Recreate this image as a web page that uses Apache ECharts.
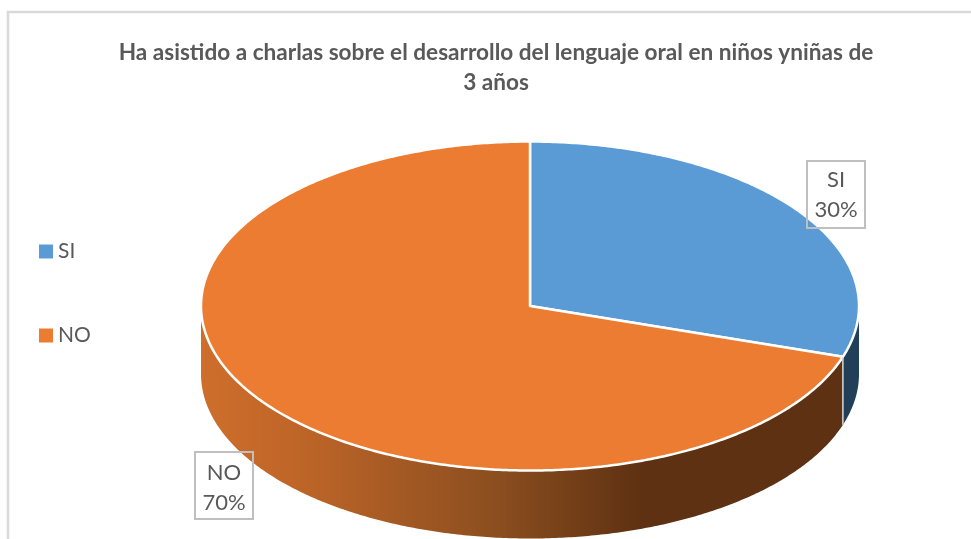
<!DOCTYPE html>
<html><head><meta charset="utf-8">
<style>html,body{margin:0;padding:0;background:#fff}#c{width:971px;height:539px}</style>
<script src="https://cdn.jsdelivr.net/npm/echarts@6/dist/echarts.min.js"></script>
</head><body><div id="c"></div>
<script>
const categories = ['SI', 'NO'];
const values = [30, 70];
const topColors = ['#5B9BD5', '#EB7C31'];
const titleText = 'Ha asistido a charlas sobre el desarrollo del lenguaje oral en niños yniñas de\n3 años';

const total = values.reduce((a, b) => a + b, 0);
const CX = 530, CY = 306, RX = 329, RY = 164.5, DEPTH = 68;
const wallFills = [
  '#223F59',
  new echarts.graphic.LinearGradient(201, 0, 859, 0, [
    {offset: 0, color: '#CE6E2B'},
    {offset: 0.15, color: '#BE6528'},
    {offset: 0.45, color: '#8B4E1F'},
    {offset: 0.67, color: '#5E3112'},
    {offset: 1, color: '#5E3112'}
  ], true)
];
const labelBoxes = [[836, 195], [224, 486]];
const labelTextDy = [0, 2];

function pt(a, dy) {
  return [CX + RX * Math.sin(a), CY - RY * Math.cos(a) + (dy || 0)];
}
function arc(a0, a1, dy) {
  const n = Math.max(2, Math.ceil(Math.abs(a1 - a0) / 0.01));
  const out = [];
  for (let i = 0; i <= n; i++) out.push(pt(a0 + (a1 - a0) * i / n, dy));
  return out;
}
function render(idx) {
  return function () {
    const before = values.slice(0, idx).reduce((a, b) => a + b, 0);
    const a0 = before / total * 2 * Math.PI;
    const a1 = (before + values[idx]) / total * 2 * Math.PI;
    const children = [];
    const w0 = Math.max(a0, Math.PI / 2), w1 = Math.min(a1, Math.PI * 1.5);
    if (w1 > w0) {
      children.push({
        type: 'polygon',
        shape: {points: arc(w0, w1, 0).concat(arc(w1, w0, DEPTH))},
        style: {fill: wallFills[idx], stroke: null},
        z2: 1
      });
    }
    children.push({
      type: 'polygon',
      shape: {points: [[CX, CY]].concat(arc(a0, a1, 0))},
      style: {fill: topColors[idx], stroke: '#fff', lineWidth: 2.5, lineJoin: 'round'},
      z2: 2
    });
    if (idx === 0) {
      const p = pt(a1, 0);
      children.push({
        type: 'line',
        shape: {x1: p[0], y1: p[1], x2: p[0], y2: p[1] + DEPTH},
        style: {stroke: '#d9d9d9', lineWidth: 1.5},
        z2: 3
      });
    }
    children.push({
      type: 'rect',
      shape: {x: labelBoxes[idx][0] - 29, y: labelBoxes[idx][1] - 34, width: 58, height: 67},
      style: {fill: 'none', stroke: '#BFBFBF', lineWidth: 2},
      z2: 5
    });
    children.push({
      type: 'text',
      x: labelBoxes[idx][0], y: labelBoxes[idx][1] + labelTextDy[idx],
      style: {
        text: categories[idx] + '\n' + Math.round(values[idx] / total * 100) + '%',
        font: '22px Lato, "Open Sans", sans-serif',
        lineHeight: 30, fill: '#595959', align: 'center', verticalAlign: 'middle'
      },
      z2: 6
    });
    return {type: 'group', children};
  };
}
const chart = echarts.init(document.getElementById('c'), null, {renderer: 'canvas'});
chart.setOption({
  animation: false,
  backgroundColor: '#fff',
  graphic: [{
    type: 'rect', silent: true, z: -1,
    shape: {x: 8, y: 12, width: 1000, height: 600},
    style: {fill: '#fff', stroke: '#D9D9D9', lineWidth: 2.5}
  }],
  title: {
    text: titleText, left: 491, top: 33, textAlign: 'center',
    textStyle: {fontFamily: 'Lato, "Open Sans", sans-serif', fontWeight: 'bold', fontSize: 22.6, lineHeight: 30, color: '#595959'}
  },
  legend: {
    orient: 'vertical', left: 34, top: 236, itemWidth: 14, itemHeight: 14, itemGap: 63,
    icon: 'rect', data: categories,
    textStyle: {fontFamily: 'Lato, "Open Sans", sans-serif', fontSize: 21, color: '#595959', padding: [2, 0, 0, 0]}
  },
  series: categories.map((name, i) => ({
    type: 'custom', name, coordinateSystem: 'none', silent: true,
    itemStyle: {color: topColors[i]},
    data: [{name, value: values[i]}],
    renderItem: render(i)
  }))
});
</script></body></html>
